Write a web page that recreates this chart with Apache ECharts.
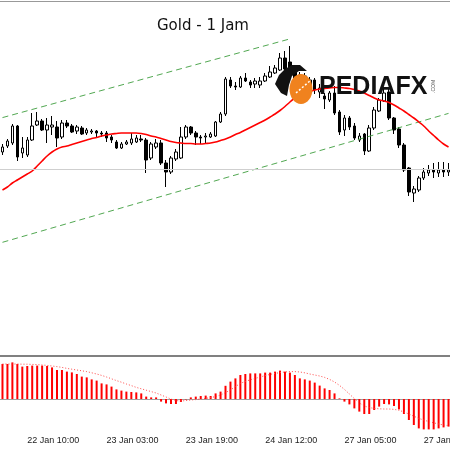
<!DOCTYPE html>
<html>
<head>
<meta charset="utf-8">
<style>
  html, body { margin: 0; padding: 0; background: #fff; }
  #goldChart { width: 450px; height: 450px; }
</style>
<script src="https://cdn.jsdelivr.net/npm/echarts@6/dist/echarts.min.js"></script>
</head>
<body>
<div id="goldChart"></div>
<script>
// sesi per hari: [tanggal, jam awal, jam akhir] (jam 00:00 libur)
const sessions = [['22 Jan', 5, 23], ['23 Jan', 1, 23], ['24 Jan', 1, 23], ['27 Jan', 1, 23], ['28 Jan', 1, 3]]
const times = []
sessions.forEach(s => {
    for (let h = s[1]; h <= s[2]; h++) times.push(s[0] + ' ' + (h < 10 ? '0' + h : h) + ':00')
})
const labelIdx = [5, 21, 37, 53, 69, 85]

// candle: [open, close, low, high]
const candles = [
    [1574.8, 1575.3, 1574.5, 1575.6], [1575.4, 1575.9, 1575.2, 1576.1], [1575.7, 1577.4, 1575.5, 1577.6], [1577.4, 1574.3, 1573.9, 1577.5],
    [1574.7, 1575.2, 1574.2, 1576.3], [1574.5, 1576.0, 1574.3, 1576.3], [1576.0, 1577.4, 1575.9, 1578.7], [1577.5, 1577.9, 1577.4, 1578.8],
    [1577.9, 1577.0, 1576.9, 1578.1], [1577.0, 1577.5, 1575.7, 1578.2], [1577.3, 1577.5, 1576.5, 1578.4], [1577.3, 1576.2, 1575.3, 1577.9],
    [1576.3, 1577.7, 1576.1, 1578.0], [1577.7, 1577.4, 1577.2, 1578.0], [1577.4, 1576.8, 1576.7, 1577.6], [1576.9, 1577.3, 1576.6, 1577.5],
    [1577.2, 1576.6, 1576.5, 1577.4], [1576.7, 1577.0, 1576.5, 1577.2], [1576.8, 1576.9, 1576.6, 1577.1], [1576.9, 1576.7, 1576.3, 1577.0],
    [1576.7, 1576.6, 1576.3, 1576.9], [1576.7, 1576.2, 1575.8, 1576.9], [1576.3, 1576.0, 1575.7, 1576.5], [1575.8, 1575.2, 1575.1, 1576.0],
    [1575.2, 1575.6, 1575.1, 1575.8], [1575.6, 1575.8, 1575.5, 1576.0], [1575.7, 1576.1, 1575.5, 1576.7], [1575.8, 1576.2, 1575.7, 1576.5],
    [1576.1, 1576.0, 1575.8, 1576.5], [1576.0, 1574.0, 1572.7, 1576.2], [1574.2, 1575.6, 1574.0, 1575.8], [1575.3, 1575.7, 1575.1, 1576.1],
    [1575.7, 1573.7, 1573.5, 1576.0], [1573.7, 1572.8, 1571.3, 1574.0], [1572.8, 1574.2, 1572.6, 1574.4], [1574.1, 1574.8, 1573.9, 1575.1],
    [1574.2, 1576.3, 1574.1, 1577.3], [1576.3, 1577.3, 1576.1, 1577.5], [1577.3, 1576.7, 1576.5, 1577.4], [1576.7, 1576.3, 1575.5, 1576.9],
    [1576.3, 1576.2, 1575.6, 1576.5], [1576.3, 1576.4, 1575.6, 1576.7], [1576.3, 1576.6, 1576.2, 1576.8], [1576.4, 1577.8, 1576.3, 1577.9],
    [1577.8, 1578.6, 1577.7, 1578.8], [1578.6, 1582.1, 1578.4, 1582.3], [1582.0, 1581.4, 1581.2, 1582.3], [1581.4, 1581.3, 1581.0, 1581.8],
    [1581.3, 1582.2, 1581.2, 1582.4], [1582.2, 1581.9, 1581.8, 1582.7], [1581.8, 1581.5, 1581.2, 1582.0], [1581.6, 1581.9, 1581.2, 1582.2],
    [1581.5, 1581.9, 1581.2, 1582.3], [1581.9, 1582.4, 1581.8, 1582.7], [1582.3, 1582.8, 1582.2, 1583.4], [1582.7, 1583.2, 1582.6, 1583.5],
    [1583.0, 1584.2, 1582.9, 1584.7], [1584.2, 1583.1, 1583.0, 1584.9], [1583.8, 1582.8, 1582.4, 1585.4], [1582.8, 1582.0, 1581.6, 1583.4],
    [1581.8, 1582.5, 1581.4, 1582.8], [1582.4, 1581.6, 1581.2, 1582.7], [1581.5, 1582.0, 1581.0, 1582.3], [1582.0, 1581.0, 1580.6, 1582.2],
    [1580.8, 1581.2, 1580.2, 1581.6], [1580.4, 1580.1, 1579.1, 1580.7], [1580.0, 1580.7, 1579.8, 1580.9], [1580.7, 1578.7, 1578.5, 1581.4],
    [1578.8, 1576.8, 1576.5, 1579.0], [1577.0, 1578.2, 1576.4, 1578.5], [1578.2, 1577.3, 1577.0, 1578.4], [1577.4, 1576.2, 1576.0, 1577.7],
    [1576.0, 1576.4, 1575.8, 1576.7], [1576.6, 1574.9, 1574.5, 1576.7], [1574.9, 1577.2, 1574.8, 1577.5], [1577.2, 1579.0, 1577.0, 1579.3],
    [1578.9, 1580.0, 1578.8, 1580.2], [1579.9, 1580.7, 1579.8, 1581.2], [1580.8, 1578.2, 1578.0, 1581.2], [1578.2, 1577.0, 1576.6, 1578.3],
    [1577.1, 1575.5, 1575.2, 1577.3], [1575.5, 1573.0, 1572.8, 1575.7], [1573.2, 1570.8, 1570.4, 1573.3], [1570.7, 1571.1, 1569.8, 1571.4],
    [1571.0, 1572.2, 1570.8, 1572.4], [1572.2, 1572.8, 1572.0, 1573.2], [1572.7, 1573.0, 1572.4, 1573.5], [1573.0, 1572.8, 1572.2, 1573.7],
    [1572.7, 1573.0, 1572.3, 1573.8], [1573.0, 1572.8, 1572.3, 1573.8], [1572.8, 1573.0, 1572.4, 1573.7]
]

// moving average (merah)
const maValues = [
    1571.0, 1571.3, 1571.7, 1572.0, 1572.3, 1572.6, 1572.9, 1573.4, 1573.9, 1574.4,
    1574.8, 1575.1, 1575.3, 1575.4, 1575.55, 1575.7, 1575.85, 1576.0, 1576.15, 1576.25,
    1576.4, 1576.5, 1576.6, 1576.65, 1576.7, 1576.7, 1576.7, 1576.7, 1576.65, 1576.55,
    1576.4, 1576.3, 1576.15, 1576.0, 1575.85, 1575.75, 1575.7, 1575.65, 1575.65, 1575.6,
    1575.6, 1575.65, 1575.7, 1575.8, 1575.95, 1576.1, 1576.3, 1576.55, 1576.75, 1577.0,
    1577.25, 1577.5, 1577.75, 1578.0, 1578.3, 1578.6, 1578.95, 1579.35, 1579.8, 1580.2,
    1580.5, 1580.7, 1580.85, 1581.0, 1581.1, 1581.15, 1581.2, 1581.25, 1581.25, 1581.2,
    1581.15, 1581.05, 1580.9, 1580.7, 1580.45, 1580.2, 1580.0, 1579.9, 1579.75, 1579.5,
    1579.2, 1578.9, 1578.55, 1578.2, 1577.8, 1577.4, 1576.9, 1576.45, 1576.0, 1575.6,
    1575.3
]

// channel (garis hijau putus-putus): [index, harga]
const upperChannel = [[0, 1578.24], [58, 1586.11]]
const lowerChannel = [[0, 1565.77], [90, 1578.66]]
const hLine = 1573.1

// MACD histogram + signal
const macdValues = [
    1.75, 1.75, 1.83, 1.75, 1.62, 1.65, 1.67, 1.67, 1.67, 1.65,
    1.58, 1.45, 1.45, 1.37, 1.33, 1.25, 1.12, 1.08, 0.98, 0.92,
    0.78, 0.73, 0.62, 0.48, 0.42, 0.37, 0.35, 0.33, 0.28, 0.12,
    0.08, 0.08, -0.13, -0.22, -0.25, -0.25, -0.15, -0.02, 0.08, 0.12,
    0.15, 0.17, 0.15, 0.28, 0.37, 0.66, 0.87, 1.03, 1.2, 1.25,
    1.28, 1.28, 1.28, 1.32, 1.32, 1.37, 1.42, 1.37, 1.32, 1.2,
    1.03, 0.98, 0.92, 0.82, 0.67, 0.53, 0.45, 0.28, 0.03, -0.13,
    -0.27, -0.47, -0.63, -0.75, -0.75, -0.55, -0.38, -0.25, -0.27, -0.35,
    -0.52, -0.75, -1.05, -1.3, -1.47, -1.52, -1.52, -1.52, -1.47, -1.42,
    -1.38
]
const signalValues = [
    1.75, 1.75, 1.75, 1.75, 1.74, 1.74, 1.73, 1.72, 1.70, 1.68,
    1.65, 1.62, 1.58, 1.53, 1.49, 1.45, 1.41, 1.37, 1.31, 1.25,
    1.18, 1.10, 1.01, 0.92, 0.84, 0.75, 0.67, 0.58, 0.51, 0.44,
    0.37, 0.30, 0.20, 0.10, 0.00, -0.08, -0.10, -0.08, -0.05, -0.03,
    0.00, 0.03, 0.07, 0.12, 0.20, 0.32, 0.45, 0.62, 0.78, 0.88,
    0.96, 1.03, 1.10, 1.17, 1.23, 1.28, 1.32, 1.35, 1.37, 1.37,
    1.35, 1.31, 1.25, 1.20, 1.15, 1.08, 0.98, 0.85, 0.68, 0.48,
    0.25, 0.02, -0.20, -0.35, -0.43, -0.47, -0.49, -0.50, -0.50, -0.52,
    -0.56, -0.65, -0.75, -0.86, -0.97, -1.05, -1.13, -1.19, -1.25, -1.30,
    -1.33
]

const chart = echarts.init(document.getElementById('goldChart'))
const green = '#52a852'
chart.setOption({
    animation: false,
    backgroundColor: '#fff',
    grid: [
        {left: 0, top: 1, width: 451, height: 353, outerBoundsMode: 'none', containLabel: false},
        {left: 0, top: 358, width: 451, height: 74, outerBoundsMode: 'none', containLabel: false}
    ],
    xAxis: [
        {type: 'category', gridIndex: 0, data: times, show: false},
        {
            type: 'category', gridIndex: 1, data: times,
            axisLine: {lineStyle: {color: '#a0a0a0', width: 1}},
            axisTick: {
                alignWithLabel: true, length: 4,
                interval: (i) => labelIdx.includes(i),
                lineStyle: {color: '#555'}
            },
            axisLabel: {
                interval: (i) => labelIdx.includes(i),
                align: 'left', margin: 4,
                fontFamily: 'Liberation Sans', fontSize: 9, color: '#222'
            },
            splitLine: {show: false}
        }
    ],
    yAxis: [
        {type: 'value', gridIndex: 0, min: 1554.6, max: 1589.9, show: false},
        {type: 'value', gridIndex: 1, min: -1.65, max: 2.05, show: false}
    ],
    series: [
        {
            type: 'line', data: upperChannel, showSymbol: false, silent: true,
            lineStyle: {color: green, width: 1, type: [6, 4]}
        },
        {
            type: 'line', data: lowerChannel, showSymbol: false, silent: true,
            lineStyle: {color: green, width: 1, type: [6, 4]},
            markLine: {
                silent: true, symbol: 'none', label: {show: false},
                lineStyle: {color: '#cfcfcf', width: 1, type: 'solid'},
                data: [{yAxis: hLine}]
            }
        },
        {
            type: 'candlestick', data: candles, barWidth: 3,
            itemStyle: {
                color: '#fff', color0: '#000',
                borderColor: '#000', borderColor0: '#000', borderColorDoji: '#000',
                borderWidth: 1
            }
        },
        {
            type: 'line', data: maValues, showSymbol: false, smooth: 0.3,
            lineStyle: {color: '#ff0000', width: 1.6}
        },
        {
            type: 'bar', xAxisIndex: 1, yAxisIndex: 1, data: macdValues,
            barWidth: 2, itemStyle: {color: '#ff0000'}
        },
        {
            type: 'line', xAxisIndex: 1, yAxisIndex: 1, data: signalValues,
            showSymbol: false, lineStyle: {color: '#ff4a4a', width: 1, type: [1, 2]}
        }
    ],
    graphic: [
        {type: 'line', shape: {x1: 0, y1: 1.5, x2: 450, y2: 1.5}, style: {stroke: '#999', lineWidth: 1}, z: 50},
        {type: 'line', shape: {x1: 0, y1: 356, x2: 450, y2: 356}, style: {stroke: '#808080', lineWidth: 2}, z: 50},
        {
            type: 'text', x: 157, y: 19, z: 50,
            style: {text: 'Gold - 1 Jam', font: '15px "DejaVu Sans"', fill: '#111'}
        },
        // logo
        {type: 'ellipse', shape: {cx: 301, cy: 89, rx: 11.5, ry: 15}, style: {fill: '#f0821e'}, z: 60},
        {
            type: 'line', shape: {x1: 296, y1: 93, x2: 311, y2: 80}, z: 61,
            style: {stroke: '#fff', lineWidth: 1.5, lineDash: [2, 2]}
        },
        {
            type: 'polygon', z: 62,
            shape: {points: [[275, 84], [279, 75], [285, 69], [292, 65], [300, 65], [307, 71], [299, 71], [292, 76], [289, 85], [287, 96], [281, 93]]},
            style: {fill: '#111'}
        },
        {
            type: 'text', x: 319, y: 75, z: 60,
            style: {text: 'PEDIAFX', font: 'bold 25px "Liberation Sans"', fill: '#111'}
        },
        {
            type: 'text', x: 431, y: 93, rotation: Math.PI / 2, z: 60,
            style: {text: '.COM', font: '5px "Liberation Sans"', fill: '#555'}
        }
    ]
})
</script>
</body>
</html>
